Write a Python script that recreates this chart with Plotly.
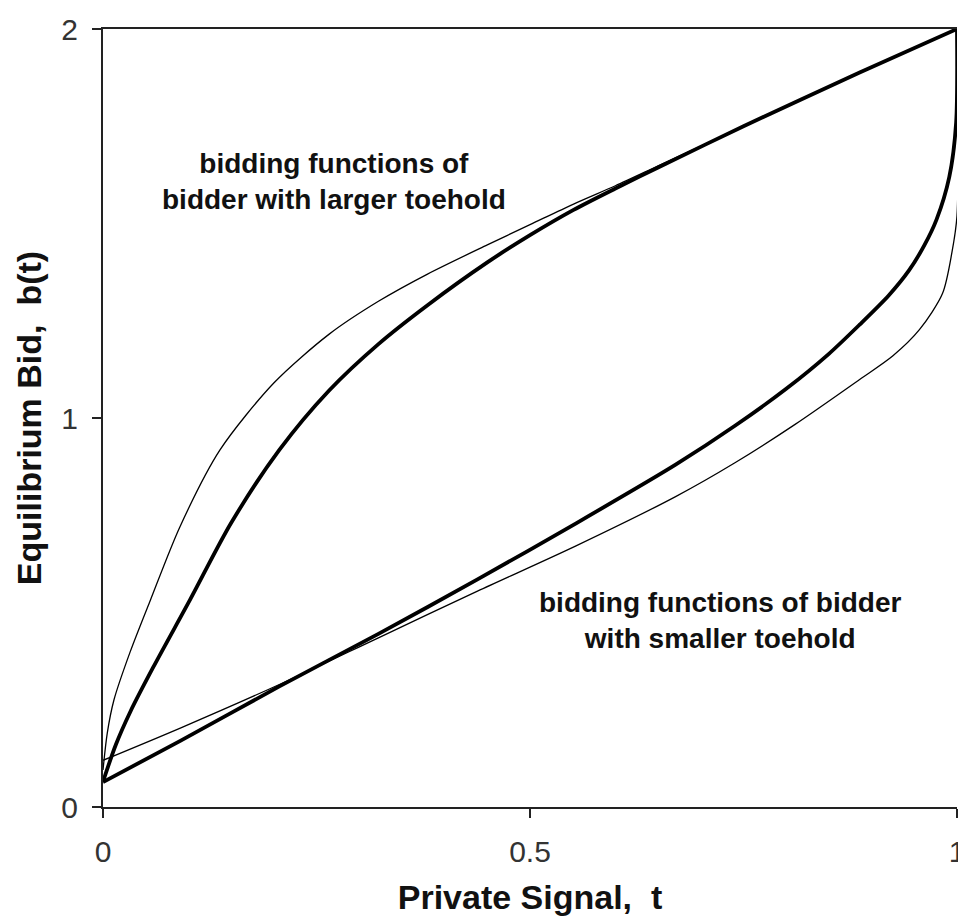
import plotly.graph_objects as go

# Bidding functions
t_large_thick = [0, 0.015, 0.032, 0.059, 0.102, 0.15, 0.2065, 0.2645, 0.3225, 0.38, 0.45, 0.50, 0.551, 0.60, 0.65, 0.75, 0.886, 1.0]
b_large_thick = [0.065, 0.16, 0.245, 0.36, 0.533, 0.73, 0.918, 1.07, 1.19, 1.29, 1.40, 1.47, 1.535, 1.59, 1.644, 1.75, 1.888, 2.0]

t_large_thin = [0, 0.005, 0.0128, 0.032, 0.0557, 0.09, 0.137, 0.2, 0.2645, 0.3225, 0.38, 0.45, 0.50, 0.551, 0.60, 0.65, 0.75, 0.886, 1.0]
b_large_thin = [0.095, 0.19, 0.275, 0.40, 0.533, 0.72, 0.918, 1.09, 1.215, 1.30, 1.37, 1.445, 1.497, 1.55, 1.597, 1.648, 1.75, 1.888, 2.0]

t_small_thick = [0, 0.0905, 0.2065, 0.3225, 0.4385, 0.5545, 0.6705, 0.74, 0.80, 0.85, 0.886, 0.92, 0.944, 0.962, 0.976, 0.991, 0.999, 1.0]
b_small_thick = [0.064, 0.17, 0.31, 0.445, 0.585, 0.73, 0.88, 0.98, 1.075, 1.165, 1.24, 1.315, 1.38, 1.445, 1.51, 1.62, 1.76, 2.0]

t_small_thin = [0, 0.0905, 0.2065, 0.3225, 0.4385, 0.5545, 0.6705, 0.74, 0.81, 0.886, 0.925, 0.956, 0.983, 0.994, 1.0, 1.0]
b_small_thin = [0.12, 0.203, 0.315, 0.435, 0.555, 0.672, 0.798, 0.885, 0.983, 1.099, 1.16, 1.227, 1.32, 1.425, 1.52, 2.0]

x_tickvals = [0, 0.5, 1]
x_ticktext = ["0", "0.5", "1"]
y_tickvals = [0, 1, 2]
y_ticktext = ["0", "1", "2"]

label_large = ["bidding functions of", "bidder with larger toehold"]
label_small = ["bidding functions of bidder", "with smaller toehold"]

fig = go.Figure()
for t, b, w in [(t_large_thin, b_large_thin, 1.3),
                (t_small_thin, b_small_thin, 1.3),
                (t_large_thick, b_large_thick, 3.8),
                (t_small_thick, b_small_thick, 3.8)]:
    fig.add_trace(go.Scatter(x=t, y=b, mode="lines",
                             line=dict(color="black", width=w, shape="spline", smoothing=0.8),
                             showlegend=False, hoverinfo="skip"))

bold = "Liberation Sans"
def btext(lines):
    return "<br>".join("<b>" + s + "</b>" for s in lines)

fig.add_annotation(x=0.2705, y=1.607, xref="x", yref="y", text=btext(label_large),
                   showarrow=False, font=dict(family=bold, size=28, color="#111"), align="center")
fig.add_annotation(x=0.7227, y=0.479, xref="x", yref="y", text=btext(label_small),
                   showarrow=False, font=dict(family=bold, size=28, color="#111"), align="center")

fig.update_layout(
    width=966, height=918,
    margin=dict(l=95, r=17, t=21, b=119),
    plot_bgcolor="white", paper_bgcolor="white",
    xaxis=dict(range=[0, 1], tickvals=x_tickvals, ticktext=x_ticktext,
               showline=True, linecolor="#222", linewidth=2, mirror=True,
               ticks="outside", ticklen=9, tickwidth=2, tickcolor="#222",
               showgrid=False, zeroline=False, automargin=False,
               tickfont=dict(family="Liberation Sans", size=30, color="#333"),
               ticklabelstandoff=8,
               title=dict(text="<b>Private Signal,  t</b>", standoff=18,
                          font=dict(family=bold, size=34, color="#111"))),
    yaxis=dict(range=[0, 2], tickvals=y_tickvals, ticktext=y_ticktext,
               showline=True, linecolor="#222", linewidth=2,
               ticks="outside", ticklen=9, tickwidth=2, tickcolor="#222",
               showgrid=False, zeroline=False, automargin=False,
               tickfont=dict(family="Liberation Sans", size=30, color="#333"),
               ticklabelstandoff=8,
               title=dict(text="<b>Equilibrium Bid,  b(t)</b>", standoff=9,
                          font=dict(family=bold, size=34, color="#111"))),
)

fig.write_html("out.html")
